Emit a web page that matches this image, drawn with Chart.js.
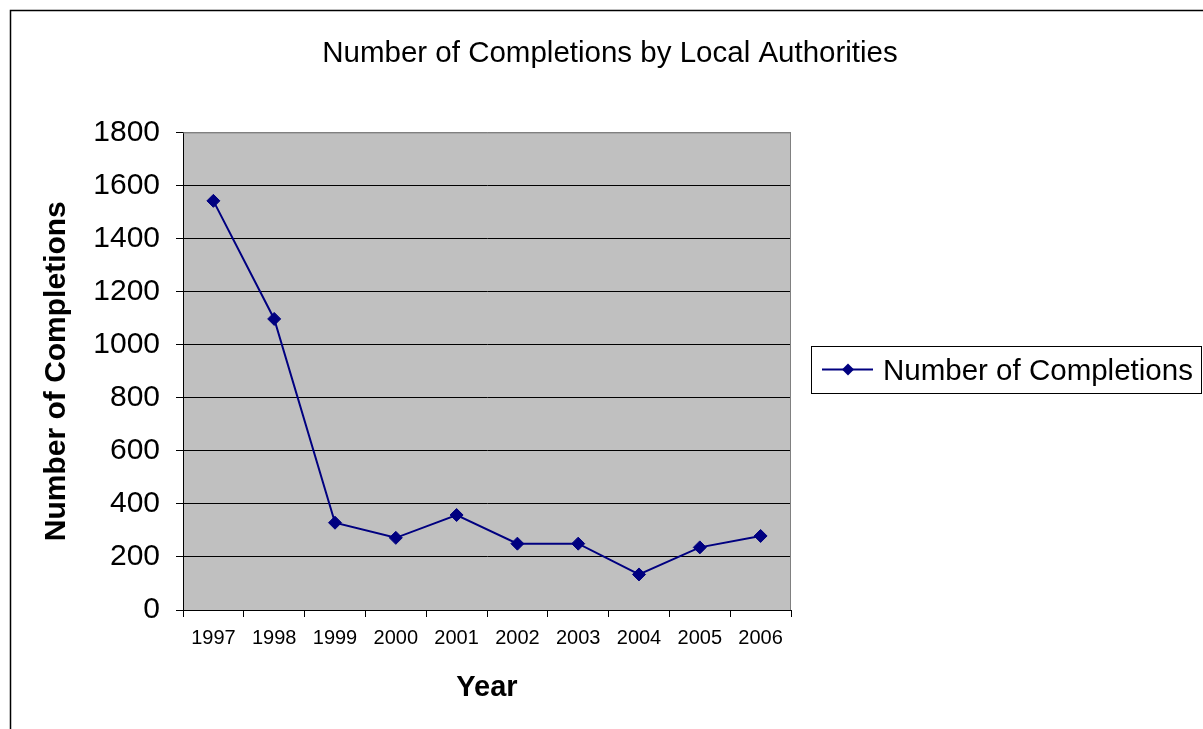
<!DOCTYPE html>
<html>
<head>
<meta charset="utf-8">
<script src="https://cdn.jsdelivr.net/npm/chart.js@4.4.1/dist/chart.umd.min.js"></script>
<style>
  html, body { margin: 0; padding: 0; background: #fff; }
  #wrap { width: 1203px; height: 729px; position: relative; }
</style>
</head>
<body>
<div id="wrap"><canvas id="chart" width="1203" height="729"></canvas></div>
<script>
// ── Data ─────────────────────────────────────────────────────────────────────
const years       = ['1997','1998','1999','2000','2001','2002','2003','2004','2005','2006'];
const completions = [1542, 1097, 329, 272, 358, 250, 250, 134, 236, 279];
const seriesLabel = 'Number of Completions';
const chartTitle  = 'Number of Completions by Local Authorities';
const yTitle      = 'Number of Completions';
const xTitle      = 'Year';

const navy = '#000080';
const font = 'Liberation Sans, Arial, sans-serif';

// ── Plugins ──────────────────────────────────────────────────────────────────

const backdrop = {
  id: 'backdrop',
  beforeDraw(chart) {
    const { ctx, chartArea: a } = chart;
    ctx.save();
    ctx.fillStyle = '#fff';
    ctx.fillRect(0, 0, chart.width, chart.height);
    // outer frame
    ctx.strokeStyle = '#000';
    ctx.lineWidth = 1.5;
    ctx.beginPath();
    ctx.moveTo(10.5, chart.height + 2);
    ctx.lineTo(10.5, 10.5);
    ctx.lineTo(chart.width + 2, 10.5);
    ctx.stroke();
    // plot area
    ctx.fillStyle = '#c0c0c0';
    ctx.fillRect(a.left, a.top, a.right - a.left, a.bottom - a.top);
    ctx.restore();
  },
  afterDatasetsDraw(chart) {
    const { ctx, chartArea: a } = chart;
    ctx.save();
    ctx.strokeStyle = '#808080';
    ctx.lineWidth = 1;
    ctx.beginPath();
    ctx.moveTo(a.left, a.top + 0.5);
    ctx.lineTo(a.right - 0.5, a.top + 0.5);
    ctx.lineTo(a.right - 0.5, a.bottom);
    ctx.stroke();
    ctx.restore();
  }
};

const legendBox = {
  id: 'legendBox',
  afterDraw(chart) {
    const { ctx } = chart;
    const ds = chart.data.datasets[0];
    const x = 811, y = 346, w = 390, h = 47, cy = y + h / 2;
    ctx.save();
    ctx.strokeStyle = '#000';
    ctx.lineWidth = 1;
    ctx.strokeRect(x + 0.5, y + 0.5, w, h);
    ctx.strokeStyle = ds.borderColor;
    ctx.lineWidth = 2;
    ctx.beginPath();
    ctx.moveTo(822, cy);
    ctx.lineTo(873, cy);
    ctx.stroke();
    ctx.fillStyle = ds.pointBackgroundColor;
    ctx.beginPath();
    ctx.moveTo(848, cy - 6); ctx.lineTo(854, cy); ctx.lineTo(848, cy + 6); ctx.lineTo(842, cy);
    ctx.closePath();
    ctx.fill();
    ctx.fillStyle = '#000';
    ctx.font = '29.5px ' + font;
    ctx.textBaseline = 'middle';
    ctx.fillText(ds.label, 883, cy + 2);
    ctx.restore();
  }
};

// ── Chart ────────────────────────────────────────────────────────────────────

new Chart(document.getElementById('chart'), {
  type: 'line',
  data: {
    labels: years,
    datasets: [{
      label: seriesLabel,
      data: completions,
      borderColor: navy,
      backgroundColor: navy,
      pointBackgroundColor: navy,
      pointBorderColor: navy,
      pointStyle: 'rectRot',
      pointRadius: 6.5,
      pointBorderWidth: 1,
      borderWidth: 2,
      tension: 0,
      yAxisID: 'y'
    }]
  },
  options: {
    responsive: false,
    animation: false,
    devicePixelRatio: 1,
    layout: { padding: { left: 17, top: 0, right: 0, bottom: 0 } },
    plugins: {
      legend: { display: false },
      tooltip: { enabled: false },
      title: {
        display: true,
        text: chartTitle,
        color: '#000',
        font: { family: font, size: 29.5, weight: 'normal' },
        padding: { top: 36, bottom: 61 }
      }
    },
    scales: {
      x: {
        offset: true,
        grid: { offset: true, drawOnChartArea: false, drawTicks: true, tickLength: 7, tickColor: '#000' },
        border: { color: '#000', width: 1 },
        ticks: { color: '#000', font: { family: font, size: 20 }, padding: 9, maxRotation: 0 },
        title: { display: true, text: xTitle, color: '#000',
                 font: { family: font, size: 29, weight: 'bold' }, padding: { top: 0, bottom: 24 } },
        afterFit(s) { s.height = 119; }
      },
      y: {
        min: 0, max: 1800,
        grid: {
          color: ctx => ctx.tick && ctx.tick.value === 1800 ? '#808080' : '#000',
          tickColor: '#000', tickLength: 7, lineWidth: 1
        },
        border: { color: '#000', width: 1 },
        ticks: { stepSize: 200, color: '#000', font: { family: font, size: 30 }, padding: 16,
                 callback: v => String(v) },
        title: { display: true, text: yTitle, color: '#000',
                 font: { family: font, size: 30, weight: 'bold' }, padding: { top: 22, bottom: 0 } },
        afterFit(s) { s.width = 166; }
      },
      spacer: {
        type: 'linear',
        position: 'right',
        display: true,
        grid: { display: false, drawTicks: false },
        border: { display: false },
        ticks: { display: false },
        afterFit(s) { s.width = 412; }
      }
    }
  },
  plugins: [backdrop, legendBox]
});
</script>
</body>
</html>
